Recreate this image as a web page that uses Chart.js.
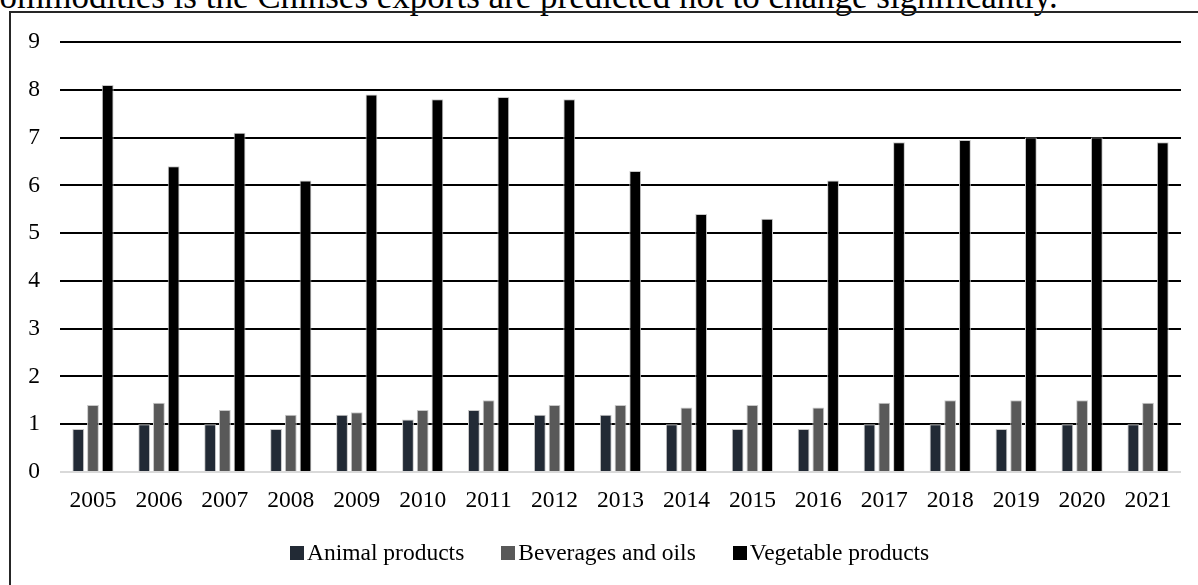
<!DOCTYPE html>
<html>
<head>
<meta charset="utf-8">
<script src="https://cdn.jsdelivr.net/npm/chart.js@4/dist/chart.umd.min.js"></script>
<style>
  html, body { margin: 0; padding: 0; background: #fff; overflow: hidden; }
  body { width: 1198px; height: 585px; position: relative; font-family: "Liberation Serif", "Times New Roman", serif; }
  #lead { position: absolute; left: -16px; top: -21px; font-size: 35px; line-height: 35px; white-space: nowrap; color: #000; }
  #frame { position: absolute; left: 9px; top: 11px; width: 1250px; height: 640px; border: 2px solid #262626; box-sizing: border-box; }
  #chart { position: absolute; left: 0; top: 0; }
  #legend { position: absolute; left: 290px; top: 539px; display: flex; font-size: 23.5px; color: #000; }
  .lg-item { display: flex; align-items: center; margin-right: 37px; white-space: nowrap; }
  .lg-box { width: 14px; height: 14px; margin-right: 3px; }
</style>
</head>
<body>
<div id="lead">commodities is the Chinses exports are predicted not to change significantly.</div>
<div id="frame"></div>
<canvas id="chart" width="1198" height="585"></canvas>
<div id="legend"></div>
<script>
/* ── data ───────────────────────────────────────── */
const YEARS = ['2005','2006','2007','2008','2009','2010','2011','2012','2013',
               '2014','2015','2016','2017','2018','2019','2020','2021'];

const ANIMAL     = [0.9, 1.0, 1.0, 0.9, 1.2, 1.1, 1.3, 1.2, 1.2, 1.0, 0.9, 0.9, 1.0, 1.0, 0.9, 1.0, 1.0];
const BEVERAGES  = [1.4, 1.45, 1.3, 1.2, 1.25, 1.3, 1.5, 1.4, 1.4, 1.35, 1.4, 1.35, 1.45, 1.5, 1.5, 1.5, 1.45];
const VEGETABLES = [8.1, 6.4, 7.1, 6.1, 7.9, 7.8, 7.85, 7.8, 6.3, 5.4, 5.3, 6.1, 6.9, 6.95, 7.0, 7.0, 6.9];

const Y_TICKS = [0, 1, 2, 3, 4, 5, 6, 7, 8, 9];

const SERIES = [
  { label: 'Animal products',    data: ANIMAL,     color: '#222a35' },
  { label: 'Beverages and oils', data: BEVERAGES,  color: '#595959' },
  { label: 'Vegetable products', data: VEGETABLES, color: '#000000' },
];

const FONT = { family: '"Liberation Serif", "Times New Roman", serif', size: 23.5 };

const chart = new Chart(document.getElementById('chart'), {
  type: 'bar',
  data: {
    labels: YEARS,
    datasets: SERIES.map(s => ({
      label: s.label,
      data: s.data,
      backgroundColor: s.color,
      borderColor: '#c8c8c8',
      borderWidth: 1,
      categoryPercentage: 0.67,
      barPercentage: 0.8,
    })),
  },
  options: {
    responsive: false, animation: false, devicePixelRatio: 1,
    layout: { padding: { top: 42, right: 17, bottom: 0, left: 0 } },
    plugins: { legend: { display: false }, tooltip: { enabled: false } },
    scales: {
      x: {
        grid: { display: false }, border: { display: false },
        ticks: { color: '#000', font: FONT, padding: 7, maxRotation: 0 },
        afterFit: a => { a.height = 113; },
      },
      y: {
        min: 0, max: Y_TICKS[Y_TICKS.length - 1],
        afterBuildTicks: a => { a.ticks = Y_TICKS.map(v => ({ value: v })); },
        border: { display: false },
        grid: { drawTicks: false, lineWidth: 2, color: c => c.tick && c.tick.value === 0 ? '#d9d9d9' : '#000' },
        ticks: { color: '#000', font: FONT, padding: 20 },
        afterFit: a => { a.width = 60; },
      },
    },
  },
});

// legend below the plot, built from the datasets
document.getElementById('legend').innerHTML = chart.data.datasets.map(d => `
  <div class="lg-item"><span class="lg-box" style="background:${d.backgroundColor}"></span>${d.label}</div>`).join('');
</script>
</body>
</html>
